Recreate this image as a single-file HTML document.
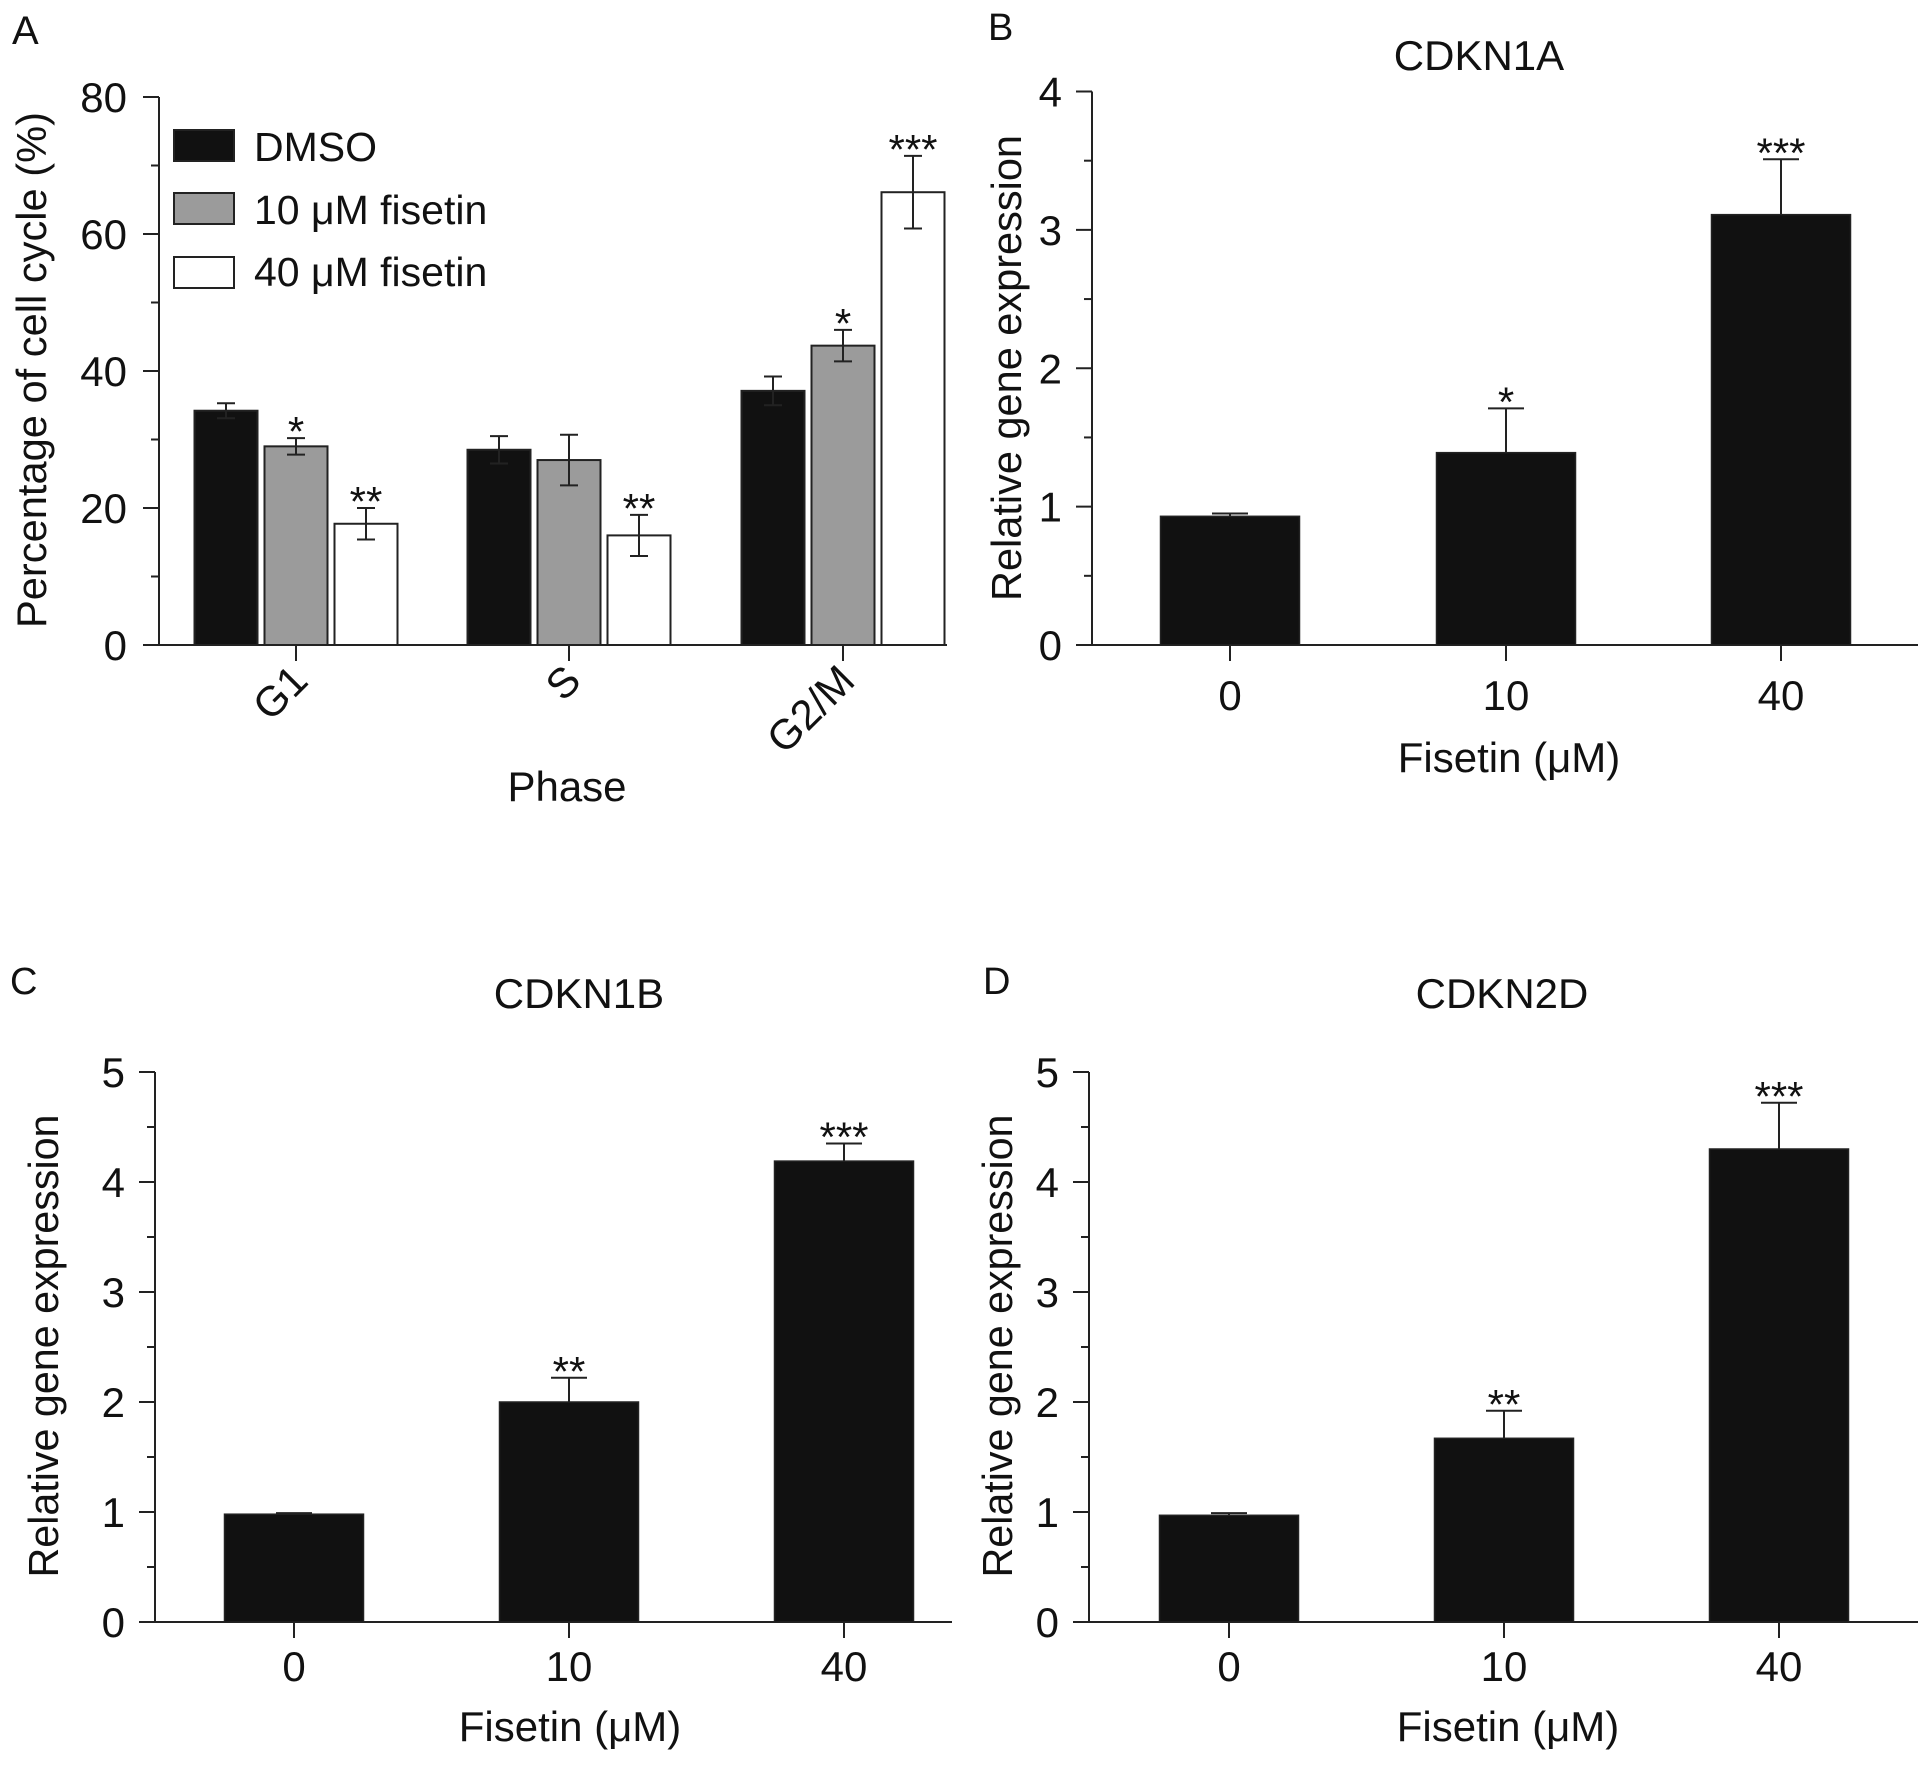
<!DOCTYPE html>
<html><head><meta charset="utf-8"><style>
html,body{margin:0;padding:0;background:#fff}
svg{display:block}
text{font-family:"Liberation Sans",Arial,sans-serif;fill:#111}
</style></head><body>
<svg id="fig" width="1932" height="1765" viewBox="0 0 1932 1765" xmlns="http://www.w3.org/2000/svg"></svg>
<script>
// Panel A data
const phaseCategories = ["G1", "S", "G2/M"];
const seriesNames = ["DMSO", "10 \u03BCM fisetin", "40 \u03BCM fisetin"];
const dmsoValues = [34.2, 28.5, 37.1];
const dmsoErrors = [1.1, 2.0, 2.1];
const fis10Values = [29.0, 27.0, 43.7];
const fis10Errors = [1.2, 3.7, 2.3];
const fis40Values = [17.7, 16.0, 66.1];
const fis40Errors = [2.3, 3.0, 5.3];
const sigA = [["", "*", "**"], ["", "", "**"], ["", "*", "***"]];
const ticksA = [0, 20, 40, 60, 80];
// Panels B-D data
const doseCategories = ["0", "10", "40"];
const cdkn1aValues = [0.93, 1.39, 3.11];
const cdkn1aErrors = [0.02, 0.32, 0.40];
const cdkn1bValues = [0.98, 2.0, 4.19];
const cdkn1bErrors = [0.01, 0.22, 0.16];
const cdkn2dValues = [0.97, 1.67, 4.30];
const cdkn2dErrors = [0.02, 0.25, 0.42];
const sigB = ["", "*", "***"];
const sigCD = ["", "**", "***"];
const ticksB = [0, 1, 2, 3, 4];
const ticksCD = [0, 1, 2, 3, 4, 5];

const NS = "http://www.w3.org/2000/svg";
const svg = document.getElementById("fig");
function mk(tag, attrs, parent) {
  const e = document.createElementNS(NS, tag);
  for (const k in attrs) e.setAttribute(k, attrs[k]);
  (parent || svg).appendChild(e);
  return e;
}
function txt(s, attrs, parent) { const t = mk("text", attrs, parent); t.textContent = s; return t; }
const TICK = 42, TITLE = 42, STAR = 42, STAROFF = 8;

// ---------- Panel A ----------
(function () {
  const g = mk("g", {});
  
  
  const x0 = 159, y0 = 645, y80 = 97, ymax = 80;
  const ys = v => y0 - (v / ymax) * (y0 - y80);
  const centers = [296, 569, 843];
  const bw = 63, step = 70;
  const fills = ["#111", "#9b9b9b", "#fff"];
  const vals = [dmsoValues, fis10Values, fis40Values];
  const errs = [dmsoErrors, fis10Errors, fis40Errors];
  const l = txt("A", {x: 12, y: 44, "font-size": 40}, g);
  
  
  const ya = mk("line", {x1: x0, y1: y80, x2: x0, y2: y0, stroke: "#222", "stroke-width": 2}, g);
  
  
  for (let v = 0; v <= ymax; v += 10) {
    const major = ticksA.includes(v);
    mk("line", {x1: x0 - (major ? 16 : 8), y1: ys(v), x2: x0, y2: ys(v), stroke: "#222", "stroke-width": 2}, g);
  }
  ticksA.forEach(v => {
    const t = txt(String(v), {x: 127, y: ys(v) + 15, "font-size": TICK, "text-anchor": "end"}, g);
    
    
  });
  const xa = mk("line", {x1: 146, y1: y0, x2: 947, y2: y0, stroke: "#222", "stroke-width": 2}, g);
  
  
  phaseCategories.forEach((c, i) => {
    const cx = centers[i];
    mk("line", {x1: cx, y1: y0, x2: cx, y2: y0 + 16, stroke: "#222", "stroke-width": 2}, g);
    const t = txt(c, {x: cx + 14, y: y0 + 38, "font-size": TICK, "text-anchor": "end", transform: `rotate(-45 ${cx + 14} ${y0 + 38})`}, g);
    
    
    for (let s = 0; s < 3; s++) {
      const bx = cx + (s - 1) * step - bw / 2;
      const v = vals[s][i], e = errs[s][i];
      const r = mk("rect", {x: bx, y: ys(v), width: bw, height: y0 - ys(v), fill: fills[s], stroke: "#222", "stroke-width": 2}, g);
      
      
      const ex = bx + bw / 2;
      const ec = "#222";
      mk("line", {x1: ex, y1: ys(v + e), x2: ex, y2: ys(v - e), stroke: ec, "stroke-width": 2}, g);
      mk("line", {x1: ex - 9, y1: ys(v + e), x2: ex + 9, y2: ys(v + e), stroke: ec, "stroke-width": 2}, g);
      mk("line", {x1: ex - 9, y1: ys(v - e), x2: ex + 9, y2: ys(v - e), stroke: ec, "stroke-width": 2}, g);
      if (sigA[i][s]) {
        const st = txt(sigA[i][s], {x: ex, y: ys(v + e) + STAROFF, "font-size": STAR, "text-anchor": "middle"}, g);
        
        
      }
    }
  });
  const xt = txt("Phase", {x: 567, y: 801, "font-size": TITLE, "text-anchor": "middle"}, g);
  
  
  const yt = txt("Percentage of cell cycle (%)", {x: 0, y: 0, "font-size": TITLE, "text-anchor": "middle", textLength: 516, lengthAdjust: "spacingAndGlyphs", transform: "translate(46 370) rotate(-90)"}, g);
  
  
  const lbY = [130, 193, 257], lbT = [161, 224, 286];
  seriesNames.forEach((n, s) => {
    const lr = mk("rect", {x: 174, y: lbY[s], width: 60, height: 31, fill: fills[s], stroke: "#222", "stroke-width": 2}, g);
    
    
    const lt = txt(n, {x: 254, y: lbT[s], "font-size": 41}, g);
    
    
  });
})();

// ---------- Panels B-D ----------
function panel(cfg) {
  const g = mk("g", {});
  
  
  const {x0, y0, ytop, ymax, ticks, centers, values, errors, sig} = cfg;
  const ys = v => y0 - (v / ymax) * (y0 - ytop);
  const l = txt(cfg.letter, {x: cfg.lx, y: cfg.ly, "font-size": 38}, g);
  
  
  const ti = txt(cfg.title, {x: cfg.tx, y: cfg.ty, "font-size": 42, "text-anchor": "middle"}, g);
  
  
  const ya = mk("line", {x1: x0, y1: ytop, x2: x0, y2: y0, stroke: "#222", "stroke-width": 2}, g);
  
  
  for (let v = 0; v <= ymax + 1e-9; v += 0.5) {
    const major = Math.abs(v - Math.round(v)) < 1e-9;
    mk("line", {x1: x0 - (major ? 16 : 8), y1: ys(v), x2: x0, y2: ys(v), stroke: "#222", "stroke-width": 2}, g);
  }
  ticks.forEach(v => {
    const t = txt(String(v), {x: x0 - 30, y: ys(v) + 15, "font-size": TICK, "text-anchor": "end"}, g);
    
    
  });
  const xa = mk("line", {x1: cfg.xaL, y1: y0, x2: cfg.xaR, y2: y0, stroke: "#222", "stroke-width": 2}, g);
  
  
  const bw = 139;
  doseCategories.forEach((c, i) => {
    const cx = centers[i];
    mk("line", {x1: cx, y1: y0, x2: cx, y2: y0 + 16, stroke: "#222", "stroke-width": 2}, g);
    const t = txt(c, {x: cx, y: cfg.tly, "font-size": TICK, "text-anchor": "middle"}, g);
    
    
    const v = values[i], e = errors[i];
    const r = mk("rect", {x: cx - bw / 2, y: ys(v), width: bw, height: y0 - ys(v), fill: "#111", stroke: "#222", "stroke-width": 1.5}, g);
    
    
    mk("line", {x1: cx, y1: ys(v), x2: cx, y2: ys(v + e), stroke: "#222", "stroke-width": 2}, g);
    mk("line", {x1: cx - 18, y1: ys(v + e), x2: cx + 18, y2: ys(v + e), stroke: "#222", "stroke-width": 2}, g);
    if (sig[i]) {
      const st = txt(sig[i], {x: cx, y: ys(v + e) + STAROFF, "font-size": STAR, "text-anchor": "middle"}, g);
      
      
    }
  });
  const xt = txt("Fisetin (\u03BCM)", {x: cfg.xtx, y: cfg.xty, "font-size": TITLE, "text-anchor": "middle"}, g);
  
  
  const yt = txt("Relative gene expression", {x: 0, y: 0, "font-size": TITLE, "text-anchor": "middle", textLength: cfg.ylen, lengthAdjust: "spacingAndGlyphs", transform: `translate(${cfg.ytx} ${cfg.yty}) rotate(-90)`}, g);
  
  
}
panel({name: "panel-b", letter: "B", lx: 988, ly: 40, title: "CDKN1A", tx: 1479, ty: 70,
  x0: 1092, y0: 645, ytop: 91.5, ymax: 4, ticks: ticksB, centers: [1230, 1506, 1781],
  values: cdkn1aValues, errors: cdkn1aErrors, sig: sigB, xaL: 1077, xaR: 1918,
  tly: 710, xtx: 1509, xty: 772, ytx: 1021, yty: 368, ylen: 466});
panel({name: "panel-c", letter: "C", lx: 10, ly: 994, title: "CDKN1B", tx: 579, ty: 1008,
  x0: 155, y0: 1622, ytop: 1072, ymax: 5, ticks: ticksCD, centers: [294, 569, 844],
  values: cdkn1bValues, errors: cdkn1bErrors, sig: sigCD, xaL: 140, xaR: 952,
  tly: 1681, xtx: 570, xty: 1741, ytx: 58, yty: 1346, ylen: 463});
panel({name: "panel-d", letter: "D", lx: 983, ly: 994, title: "CDKN2D", tx: 1502, ty: 1008,
  x0: 1089, y0: 1622, ytop: 1072, ymax: 5, ticks: ticksCD, centers: [1229, 1504, 1779],
  values: cdkn2dValues, errors: cdkn2dErrors, sig: sigCD, xaL: 1074, xaR: 1918,
  tly: 1681, xtx: 1508, xty: 1741, ytx: 1012, yty: 1346, ylen: 463});
</script>
</body></html>
